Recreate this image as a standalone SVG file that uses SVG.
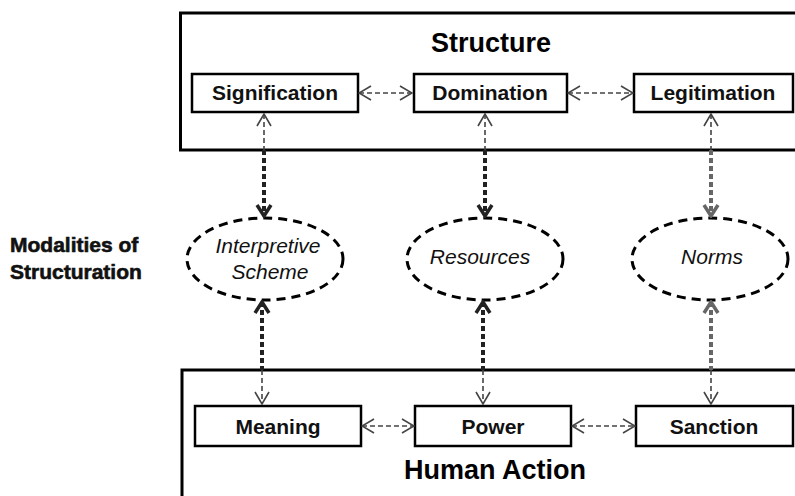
<svg xmlns="http://www.w3.org/2000/svg" width="795" height="496" viewBox="0 0 795 496">
<style>
.frame{fill:#fff;stroke:#000;stroke-width:3}
.box{fill:#fff;stroke:#000;stroke-width:2.5}
.title{font-family:"Liberation Sans",Arial,sans-serif;font-weight:bold;font-size:27px;text-anchor:middle;fill:#000}
.lbl{font-family:"Liberation Sans",Arial,sans-serif;font-weight:bold;font-size:21px;text-anchor:middle;fill:#111}
.mod{font-family:"Liberation Sans",Arial,sans-serif;font-style:italic;font-size:21px;text-anchor:middle;fill:#111}
.side{font-family:"Liberation Sans",Arial,sans-serif;font-weight:bold;font-size:21px;fill:#111;stroke:#111;stroke-width:0.6}
.ell{fill:#fff;stroke:#000;stroke-width:3;stroke-dasharray:9 6}
.thin{fill:none;stroke:#444;stroke-width:1.6;stroke-dasharray:5 3}
.thick{fill:none;stroke:#222;stroke-width:4;stroke-dasharray:5 3}
.thickg{fill:none;stroke:#666;stroke-width:4;stroke-dasharray:5 3}
</style>
<defs>
<marker id="thinArrow" viewBox="0 0 14 16" refX="13" refY="8" markerWidth="14" markerHeight="16" markerUnits="userSpaceOnUse" orient="auto-start-reverse">
<path d="M1,1 L13,8 L1,15" fill="none" stroke="#444" stroke-width="1.6"/>
</marker>
<marker id="boldArrow" viewBox="0 0 14 18" refX="12" refY="9" markerWidth="14" markerHeight="18" markerUnits="userSpaceOnUse" orient="auto-start-reverse">
<path d="M1,2 L12,9 L1,16" fill="none" stroke="#222" stroke-width="3.5"/>
</marker>
<marker id="boldArrowG" viewBox="0 0 14 18" refX="12" refY="9" markerWidth="14" markerHeight="18" markerUnits="userSpaceOnUse" orient="auto-start-reverse">
<path d="M1,2 L12,9 L1,16" fill="none" stroke="#666" stroke-width="3.5"/>
</marker>
</defs>

<g id="structure">
<rect class="frame" x="180.5" y="13" width="700" height="137"/>
<text class="title" x="491" y="52">Structure</text>
</g>
<g id="human-action">
<rect class="frame" x="182" y="370" width="700" height="200"/>
<text class="title" x="495" y="479">Human Action</text>
</g>

<g id="modalities-label">
<text class="side" x="10" y="252">Modalities of</text>
<text class="side" x="10" y="279">Structuration</text>
</g>

<g id="signification"><rect class="box" x="192" y="74" width="166" height="38"/><text class="lbl" x="275" y="100">Signification</text></g>
<g id="domination"><rect class="box" x="414" y="74" width="153" height="38"/><text class="lbl" x="490" y="100">Domination</text></g>
<g id="legitimation"><rect class="box" x="634" y="74" width="159" height="38"/><text class="lbl" x="713" y="100">Legitimation</text></g>

<g id="meaning"><rect class="box" x="195" y="406" width="166" height="40"/><text class="lbl" x="278" y="434">Meaning</text></g>
<g id="power"><rect class="box" x="415" y="406" width="156" height="40"/><text class="lbl" x="493" y="434">Power</text></g>
<g id="sanction"><rect class="box" x="636" y="406" width="157" height="40"/><text class="lbl" x="714" y="434">Sanction</text></g>

<g id="interpretive-scheme"><ellipse class="ell" cx="265" cy="259" rx="78" ry="41"/><text class="mod" x="268" y="253">Interpretive</text><text class="mod" x="270" y="279">Scheme</text></g>
<g id="resources"><ellipse class="ell" cx="485" cy="259" rx="78" ry="41"/><text class="mod" x="480" y="264">Resources</text></g>
<g id="norms"><ellipse class="ell" cx="710" cy="259" rx="78" ry="41"/><text class="mod" x="712" y="264">Norms</text></g>

<g id="connectors">
<path class="thin" d="M359,93 L412,93" marker-start="url(#thinArrow)" marker-end="url(#thinArrow)"/>
<path class="thin" d="M568,93 L633,93" marker-start="url(#thinArrow)" marker-end="url(#thinArrow)"/>
<path class="thin" d="M362,426 L414,426" marker-start="url(#thinArrow)" marker-end="url(#thinArrow)"/>
<path class="thin" d="M572,426 L635,426" marker-start="url(#thinArrow)" marker-end="url(#thinArrow)"/>

<path class="thin" d="M264,114 L264,150" marker-start="url(#thinArrow)"/>
<path class="thick" d="M264,150 L264,216" marker-end="url(#boldArrow)"/>
<path class="thin" d="M485,114 L485,150" marker-start="url(#thinArrow)"/>
<path class="thick" d="M485,150 L485,216" marker-end="url(#boldArrow)"/>
<path class="thin" d="M711,114 L711,150" marker-start="url(#thinArrow)"/>
<path class="thickg" d="M711,150 L711,216" marker-end="url(#boldArrowG)"/>

<path class="thick" d="M262,302 L262,370" marker-start="url(#boldArrow)"/>
<path class="thin" d="M262,370 L262,404" marker-end="url(#thinArrow)"/>
<path class="thick" d="M483,302 L483,370" marker-start="url(#boldArrow)"/>
<path class="thin" d="M483,370 L483,404" marker-end="url(#thinArrow)"/>
<path class="thickg" d="M711,302 L711,370" marker-start="url(#boldArrowG)"/>
<path class="thin" d="M711,370 L711,404" marker-end="url(#thinArrow)"/>
</g>
</svg>
